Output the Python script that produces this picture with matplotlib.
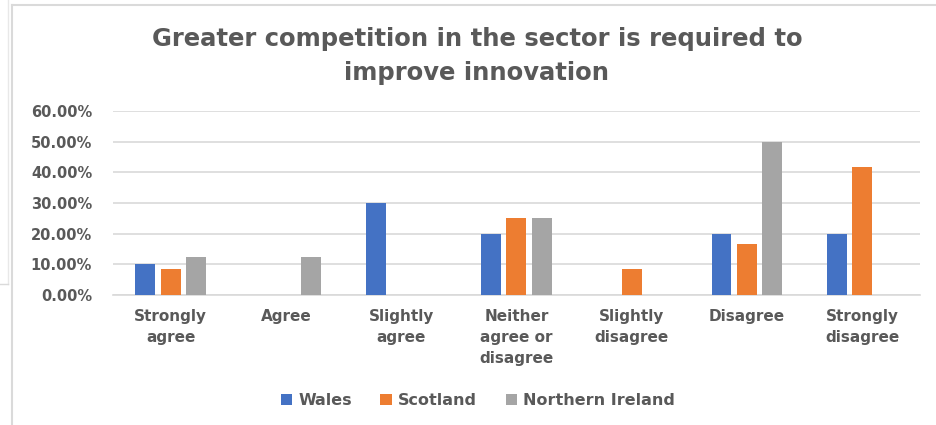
import matplotlib
matplotlib.use("Agg")
import matplotlib.pyplot as plt
from matplotlib.lines import Line2D
import numpy as np

categories = ["Strongly\nagree", "Agree", "Slightly\nagree", "Neither\nagree or\ndisagree",
              "Slightly\ndisagree", "Disagree", "Strongly\ndisagree"]
wales = [0.10, 0.0, 0.30, 0.20, 0.0, 0.20, 0.20]
scotland = [0.0833, 0.0, 0.0, 0.25, 0.0833, 0.1667, 0.4167]
northern_ireland = [0.125, 0.125, 0.0, 0.25, 0.0, 0.50, 0.0]
series = [("Wales", wales, "#4472C4"), ("Scotland", scotland, "#ED7D31"),
          ("Northern Ireland", northern_ireland, "#A5A5A5")]
yticks = [0.0, 0.1, 0.2, 0.3, 0.4, 0.5, 0.6]
title = "Greater competition in the sector is required to\nimprove innovation"

fig = plt.figure(figsize=(9.37, 4.25), dpi=100)
ax = fig.add_axes([0.1206, 0.306, 0.861, 0.433])

x = np.arange(len(categories))
offset = 0.22
width = 0.173
for i, (name, vals, col) in enumerate(series):
    ax.bar(x + (i - 1) * offset, vals, width, color=col, label=name, zorder=3)

ax.set_xlim(-0.5, len(categories) - 0.5)
ax.set_ylim(0, 0.6)
ax.set_yticks(yticks)
ax.set_yticklabels([f"{v*100:.2f}%" for v in yticks], fontsize=10.5, fontweight="bold", color="#595959")
ax.yaxis.grid(True, color="#D9D9D9", linewidth=1.2, zorder=0)
for s in ["top", "right", "left"]:
    ax.spines[s].set_visible(False)
ax.spines["bottom"].set_color("#D9D9D9")
ax.spines["bottom"].set_linewidth(1.2)
ax.tick_params(axis="both", length=0)
ax.tick_params(axis="y", pad=15)
ax.set_xticks(x)
ax.set_xticklabels(categories, fontsize=11, fontweight="bold", color="#595959", linespacing=1.5)
ax.tick_params(axis="x", pad=10)

fig.text(0.509, 0.937, title, ha="center", va="top", fontsize=17.5, fontweight="bold",
         color="#595959", linespacing=1.55)

leg = fig.legend(loc="center", bbox_to_anchor=(0.51, 0.058), ncol=3, frameon=False,
                 fontsize=11.5, handlelength=0.7, handleheight=0.7, handletextpad=0.4,
                 columnspacing=1.8)
for t in leg.get_texts():
    t.set_color("#595959")
    t.set_fontweight("bold")

# screenshot frame lines
fc = "#DADADA"
fig.add_artist(Line2D([12/937, 1.0], [1-5/425, 1-5/425], color=fc, lw=1.5, transform=fig.transFigure))
fig.add_artist(Line2D([12/937, 12/937], [0, 1-5/425], color=fc, lw=1.5, transform=fig.transFigure))
fig.add_artist(Line2D([8/937, 8/937], [1-284/425, 1], color="#E8E8E8", lw=1.0, transform=fig.transFigure))
fig.add_artist(Line2D([0, 8/937], [1-284/425, 1-284/425], color=fc, lw=1.0, transform=fig.transFigure))

fig.savefig("out.png", dpi=100)
